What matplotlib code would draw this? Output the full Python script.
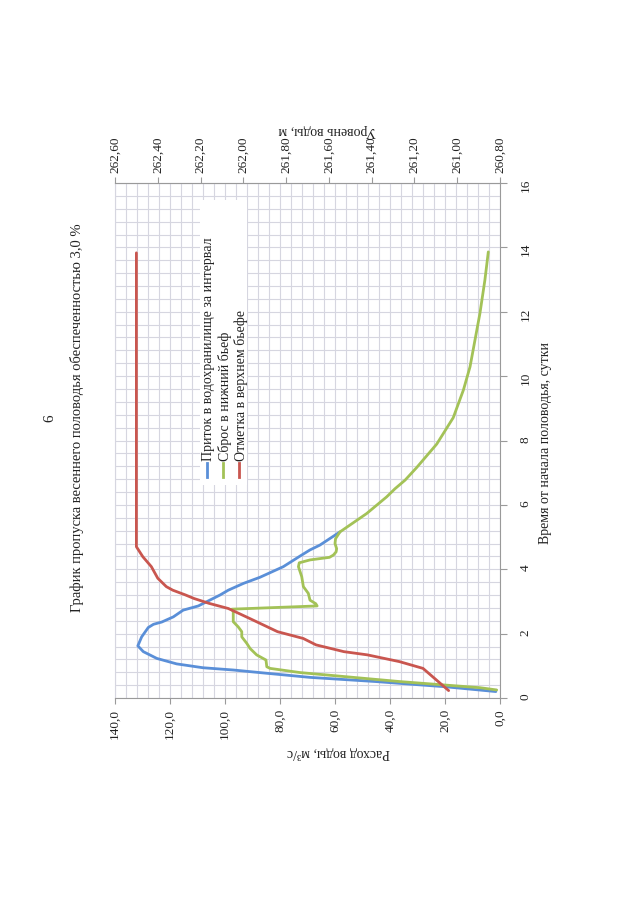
import matplotlib
matplotlib.use("Agg")
import matplotlib.pyplot as plt
from matplotlib.ticker import FixedLocator, MultipleLocator, FuncFormatter
from matplotlib.patches import Rectangle
from matplotlib.lines import Line2D

plt.rcParams['font.family'] = ['Liberation Serif', 'DejaVu Serif']

page_number = "6"
title = "График пропуска весеннего половодья обеспеченностью 3,0 %"
t_label = "Время от начала половодья, сутки"
q_label = "Расход воды, м³/с"
h_label = "Уровень воды, м"
series_names = ["Приток в водохранилище за интервал",
                "Сброс в нижний бьеф",
                "Отметка в верхнем бьефе"]

# Inflow (blue)
inflow_t = [0.20, 0.35, 0.51, 0.64, 0.77, 0.87, 0.94, 1.06, 1.23, 1.44, 1.62,
            1.90, 2.19, 2.29, 2.36, 2.52, 2.73, 2.86, 2.99, 3.20, 3.35, 3.56,
            3.75, 4.08, 4.41, 4.60, 4.75, 5.16]
inflow_q = [1.5, 20.0, 45.0, 69.0, 85.0, 97.0, 108.0, 117.6, 124.8, 129.7, 131.7,
            130.3, 127.9, 126.0, 123.0, 118.8, 115.2, 109.7, 106.7, 101.8, 98.8, 93.3,
            87.3, 78.8, 72.7, 69.1, 65.5, 58.2]

# Release to tailwater (green)
release_t = [0.25, 0.32, 0.51, 0.79, 0.92, 0.97, 1.18, 1.34, 1.54, 1.70, 1.90,
             2.06, 2.21, 2.37, 2.68, 2.76, 2.86, 2.93, 3.04, 3.25, 3.46, 3.77,
             4.08, 4.20, 4.29, 4.37, 4.44, 4.54, 4.64, 4.80, 4.95, 5.16, 5.73,
             6.25, 6.50, 6.77, 7.16, 7.89, 8.71, 9.57, 10.29, 11.12, 11.95,
             12.98, 13.86]
release_q = [1.2, 7.3, 36.4, 72.7, 83.6, 84.8, 85.1, 88.5, 90.9, 92.1, 93.9,
             93.9, 95.2, 97.0, 97.0, 97.5, 66.5, 67.0, 69.1, 69.7, 71.5, 72.1,
             73.3, 73.0, 69.1, 62.0, 60.6, 59.6, 59.4, 60.0, 59.8, 58.2, 48.5,
             41.2, 38.2, 34.5, 30.3, 23.0, 17.0, 13.3, 10.9, 9.1, 7.3,
             5.5, 4.25]

# Headwater level (red)
level_t = [0.23, 0.92, 1.13, 1.34, 1.44, 1.65, 1.85, 2.06, 2.47, 2.78, 2.94,
           3.09, 3.20, 3.35, 3.46, 3.72, 4.08, 4.39, 4.70, 5.01, 13.83]
level_h = [261.04, 261.16, 261.27, 261.42, 261.53, 261.66, 261.72, 261.84, 261.97,
           262.07, 262.16, 262.23, 262.27, 262.33, 262.36, 262.40, 262.43, 262.47,
           262.50, 262.50, 262.50]

q_ticks = [0, 20, 40, 60, 80, 100, 120, 140]
h_ticks = [260.80, 261.00, 261.20, 261.40, 261.60, 261.80, 262.00, 262.20, 262.40, 262.60]
t_ticks = [0, 2, 4, 6, 8, 10, 12, 14, 16]

c_blue = '#5a8fd8'
c_green = '#a3c257'
c_red = '#c9564f'
grid_c = '#d6d6e0'
spine_c = '#9a9a9a'
text_c = '#222222'

fig = plt.figure(figsize=(6.4, 9.18), dpi=100)
W, H = 640.0, 918.0
ax = fig.add_axes([115 / W, 1 - 698 / H, 385 / W, 515 / H])
ax.set_xlim(140, 0)
ax.set_ylim(0, 16)

ax.xaxis.set_major_locator(FixedLocator(q_ticks))
ax.xaxis.set_minor_locator(MultipleLocator(4))
ax.yaxis.set_major_locator(FixedLocator(t_ticks))
ax.yaxis.set_minor_locator(MultipleLocator(0.4))
ax.xaxis.set_major_formatter(FuncFormatter(lambda v, p: f"{v:.1f}".replace('.', ',')))
ax.yaxis.set_major_formatter(FuncFormatter(lambda v, p: f"{v:.0f}"))
ax.grid(which='both', color=grid_c, lw=0.8)
ax.set_axisbelow(True)
ax.yaxis.tick_right()
ax.tick_params(axis='x', which='major', labelrotation=90, length=4, pad=4,
               color=spine_c, labelcolor=text_c, labelsize=9.5)
ax.tick_params(axis='y', which='major', labelrotation=90, length=5, pad=9,
               color=spine_c, labelcolor=text_c, labelsize=9.5)
ax.tick_params(which='minor', length=0)
for s in ax.spines.values():
    s.set_color(grid_c)
ax.spines['bottom'].set_color(spine_c)
ax.spines['right'].set_color(spine_c)

ax.plot(inflow_q, inflow_t, color=c_blue, lw=2.0, solid_capstyle='round', zorder=3)
ax.plot(release_q, release_t, color=c_green, lw=2.0, solid_capstyle='round', zorder=4)

ax2 = ax.twiny()
ax2.set_xlim(262.60, 260.80)
ax2.xaxis.set_major_locator(FixedLocator(h_ticks))
ax2.xaxis.set_major_formatter(FuncFormatter(lambda v, p: f"{v:.2f}".replace('.', ',')))
ax2.tick_params(axis='x', which='major', labelrotation=90, length=4, pad=3,
                color=spine_c, labelcolor=text_c, labelsize=9.5)
for s in ax2.spines.values():
    s.set_visible(False)
ax2.spines['top'].set_visible(True)
ax2.spines['top'].set_color(spine_c)
ax2.plot(level_h, level_t, color=c_red, lw=2.0, solid_capstyle='round', zorder=3)

# Legend (rotated, drawn manually)
ax2.add_patch(Rectangle((0.221, 0.414), 0.122, 0.553, transform=ax2.transAxes,
                        facecolor='white', edgecolor='none', zorder=5))
for xc, col, name in zip([0.239, 0.281, 0.322], [c_blue, c_green, c_red], series_names):
    ax2.add_line(Line2D([xc, xc], [0.429, 0.456], transform=ax2.transAxes,
                        color=col, lw=2.0, zorder=6))
    ax2.text(xc + 0.004, 0.461, name, transform=ax2.transAxes, rotation=90,
             ha='center', va='bottom', fontsize=10, color=text_c, zorder=7)

fig.text(50 / W, 1 - 418 / H, page_number, rotation=90, ha='center', va='center',
         fontsize=11, color=text_c)
fig.text(77 / W, 1 - 418 / H, title, rotation=90, ha='center', va='center',
         fontsize=10.5, color=text_c)
fig.text(545 / W, 1 - 443 / H, t_label, rotation=90, ha='center', va='center',
         fontsize=10, color=text_c)
fig.text(338 / W, 1 - 752 / H, q_label, rotation=180, ha='center', va='center',
         fontsize=10, color=text_c)
fig.text(327 / W, 1 - 131 / H, h_label, rotation=180, ha='center', va='center',
         fontsize=10, color=text_c)

fig.savefig("out.png", dpi=100, facecolor='white')
